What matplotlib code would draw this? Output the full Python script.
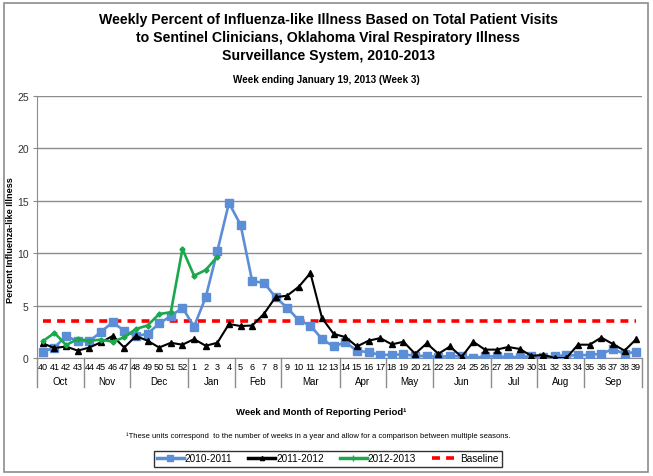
import matplotlib
matplotlib.use("Agg")
import matplotlib.pyplot as plt
import matplotlib.transforms as mtransforms
from matplotlib.lines import Line2D
from matplotlib.patches import Rectangle

plt.rcParams['font.family'] = ['Liberation Sans', 'DejaVu Sans']

weeks = [40, 41, 42, 43, 44, 45, 46, 47, 48, 49, 50, 51, 52] + list(range(1, 40))
months = ["Oct", "Nov", "Dec", "Jan", "Feb", "Mar", "Apr", "May", "Jun", "Jul", "Aug", "Sep"]
month_weeks = [4, 4, 5, 4, 4, 5, 4, 4, 5, 4, 4, 5]

s1011 = [0.6, 1.0, 2.1, 1.6, 1.6, 2.5, 3.4, 2.6, 2.1, 2.3, 3.3, 4.0, 4.8,
         3.0, 5.8, 10.2, 14.8, 12.7, 7.3, 7.2, 5.8, 4.8, 3.6,
         3.1, 1.8, 1.1, 1.5, 0.7, 0.55, 0.3, 0.3, 0.35, 0.2,
         0.2, 0.1, 0.2, 0.15, 0.0, 0.15, 0.15, 0.1, 0.1, 0.15,
         0.05, 0.2, 0.25, 0.25, 0.3, 0.4, 0.85, 0.4, 0.6]
s1112 = [1.4, 0.95, 1.1, 0.7, 1.0, 1.5, 2.1, 1.0, 2.1, 1.65, 1.0, 1.45, 1.27,
         1.8, 1.17, 1.45, 3.24, 3.05, 3.1, 4.2, 5.8, 5.95, 6.8,
         8.1, 3.8, 2.3, 2.0, 1.1, 1.65, 1.9, 1.3, 1.55, 0.4,
         1.4, 0.4, 1.1, 0.1, 1.55, 0.8, 0.8, 1.05, 0.86, 0.2,
         0.3, 0.0, 0.0, 1.27, 1.27, 1.95, 1.33, 0.7, 1.8]
s1213 = [1.6, 2.4, 1.24, 1.8, 1.65, 1.75, 1.56, 1.97, 2.77, 3.1, 4.2, 4.36, 10.4,
         7.85, 8.4, 9.67]
baseline = 3.5

c_blue = "#5B8ED6"
c_black = "#000000"
c_green = "#1BA84C"
c_red = "#FF0000"

fig = plt.figure(figsize=(6.53, 4.77), dpi=100)
fig.patch.set_facecolor("white")
# outer chart frame
fig.add_artist(Rectangle((4 / 653, 1 - 473 / 477), 644 / 653, 469 / 477,
                         transform=fig.transFigure, fill=False,
                         edgecolor="#8C8C8C", lw=1.2))

ax = fig.add_axes([37 / 653, 1 - 359 / 477, 605 / 653, 262 / 477])
x = list(range(len(weeks)))

ax.set_xlim(-0.5, len(weeks) - 0.5)
ax.set_ylim(0, 25)
ax.set_yticks([0, 5, 10, 15, 20, 25])
ax.yaxis.grid(True, color="#8C8C8C", lw=1)
ax.set_axisbelow(True)
for s in ["top", "right"]:
    ax.spines[s].set_visible(False)
ax.spines["left"].set_color("#8C8C8C")
ax.spines["bottom"].set_color("#8C8C8C")
ax.tick_params(axis="y", direction="out", length=3, color="#8C8C8C",
               labelsize=7.5, labelcolor="#333333", pad=3)
ax.set_xticks(x)
ax.set_xticklabels([str(w) for w in weeks], fontsize=6.6)
ax.tick_params(axis="x", length=0, pad=3)

ax.hlines(baseline, x[0], x[-1], colors=c_red, lw=2.6,
          linestyles=(0, (2.2, 1.7)), zorder=2)
ax.plot(x, s1011, color=c_blue, lw=1.9, marker="s", markersize=5.2, zorder=3)
ax.plot(x, s1112, color=c_black, lw=1.5, marker="^", markersize=4.2, zorder=4)
ax.plot(x[:len(s1213)], s1213, color=c_green, lw=1.9, marker="D",
        markersize=2.6, zorder=5)

# month separators and labels
trans = mtransforms.blended_transform_factory(ax.transData, ax.transAxes)
sep_bottom = -29 / 262
start = -0.5
ax.plot([start, start], [0, sep_bottom], transform=trans, color="#8C8C8C",
        lw=1, clip_on=False)
for m, n in zip(months, month_weeks):
    end = start + n
    ax.plot([end, end], [0, sep_bottom], transform=trans, color="#8C8C8C",
            lw=1, clip_on=False)
    ax.text((start + end) / 2, -23 / 262, m, transform=trans, ha="center",
            va="center", fontsize=7)
    start = end

ax.set_ylabel("Percent Influenza-like Illness", fontsize=6.6, fontweight="bold")
ax.yaxis.label.set_va("center")
ax.yaxis.set_label_coords(-26 / 605, (359 - 240) / 262)

fig.text(0.503, 1 - 38 / 477,
         "Weekly Percent of Influenza-like Illness Based on Total Patient Visits\n"
         "to Sentinel Clinicians, Oklahoma Viral Respiratory Illness\n"
         "Surveillance System, 2010-2013",
         ha="center", va="center", fontsize=10.2, fontweight="bold",
         linespacing=1.4)
fig.text(0.5, 1 - 80 / 477, "Week ending January 19, 2013 (Week 3)",
         ha="center", va="center", fontsize=7.1, fontweight="bold")
fig.text(0.492, 1 - 413 / 477, "Week and Month of Reporting Period\u00b9",
         ha="center", va="center", fontsize=6.8, fontweight="bold")
fig.text(0.488, 1 - 436 / 477,
         "\u00b9These units correspond  to the number of weeks in a year and allow for a comparison between multiple seasons.",
         ha="center", va="center", fontsize=5.5)

handles = [
    Line2D([], [], color=c_blue, lw=2.5, marker="s", markersize=5),
    Line2D([], [], color=c_black, lw=2.5, marker="^", markersize=3),
    Line2D([], [], color=c_green, lw=2.5, marker="+", markersize=4),
    Line2D([], [], color=c_red, lw=2.6, linestyle=(0, (2.2, 1.7))),
]
labels = ["2010-2011", "2011-2012", "2012-2013", "Baseline"]
leg = fig.legend(handles, labels, loc="center", ncol=4,
                 bbox_to_anchor=(327.5 / 653, 1 - 459.5 / 477),
                 fontsize=7.2, frameon=True, fancybox=False,
                 edgecolor="black", handlelength=2.7, handletextpad=0.1,
                 columnspacing=1.6, borderpad=0.3, borderaxespad=0)
leg.get_frame().set_linewidth(1.0)

fig.savefig("out.png", dpi=100, facecolor="white")
